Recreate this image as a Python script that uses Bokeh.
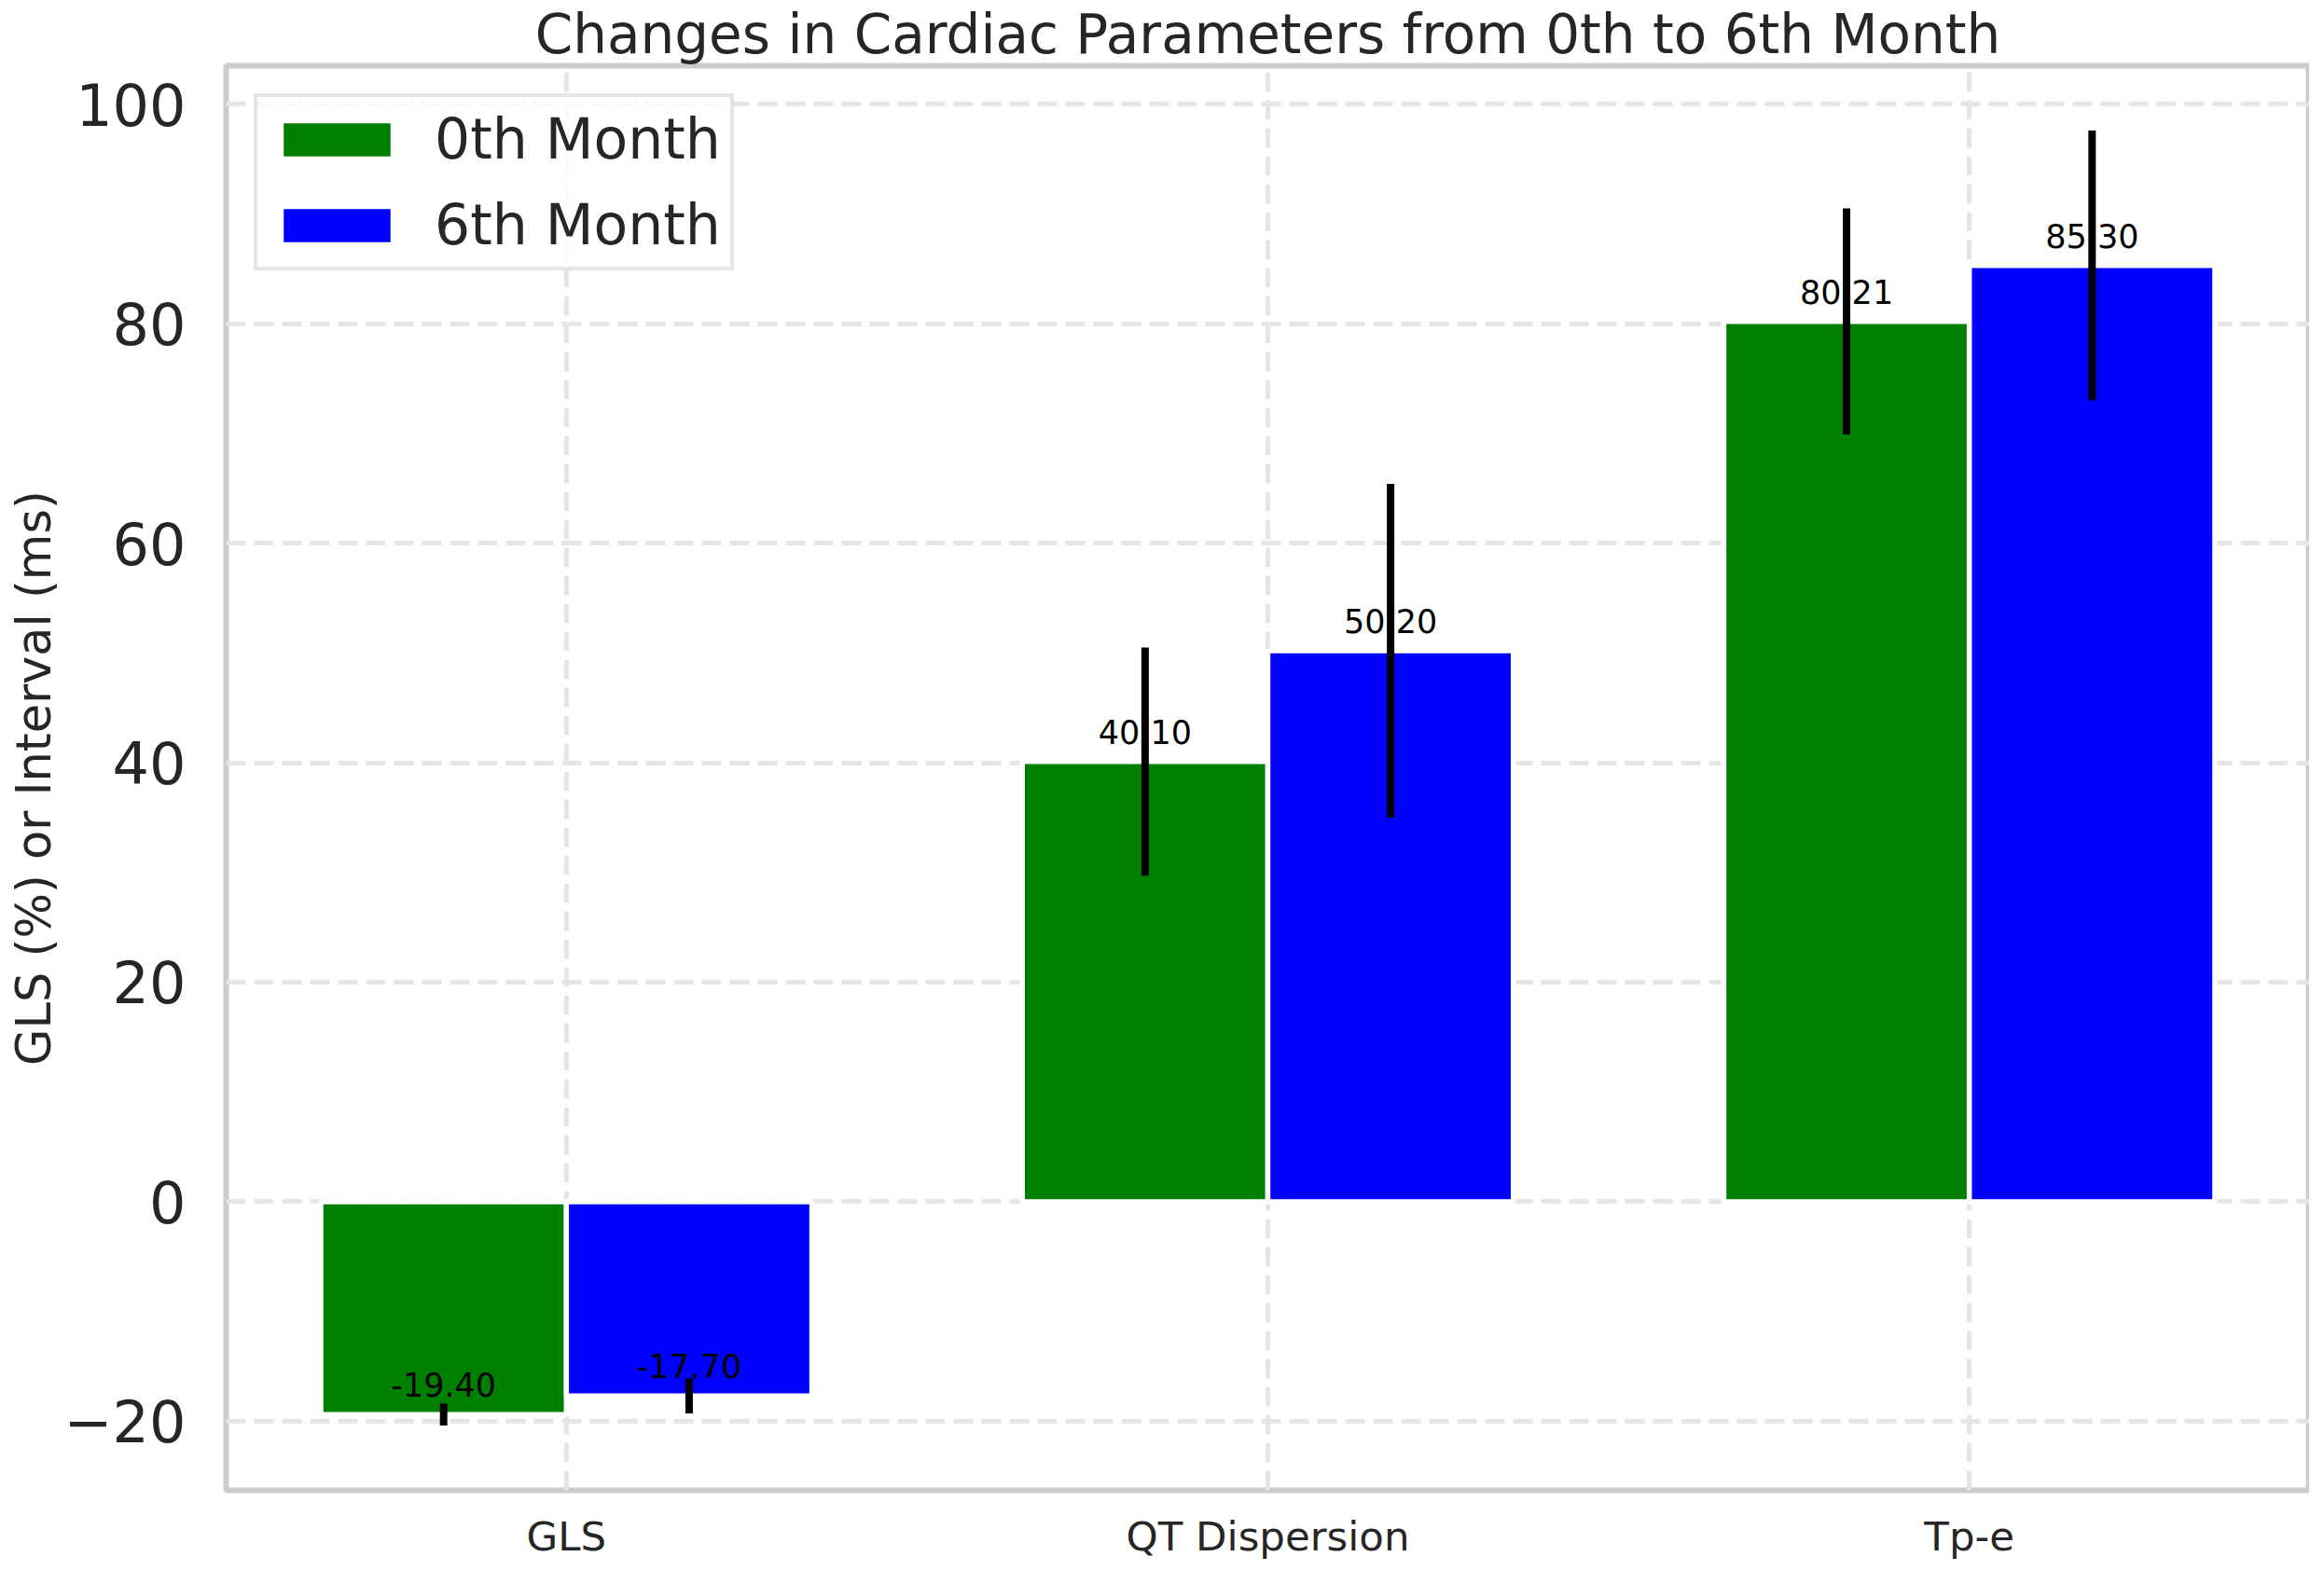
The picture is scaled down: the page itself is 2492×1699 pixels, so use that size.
from bokeh.plotting import figure
from bokeh.models import Range1d, FixedTicker, ColumnDataSource, Legend, LegendItem
from bokeh.transform import dodge
from bokeh.embed import file_html
from bokeh.resources import INLINE
from bokeh.core.properties import value

categories = ["GLS", "QT Dispersion", "Tp-e"]
series = ["0th Month", "6th Month"]
month0 = [-19.40, 40.10, 80.21]
month6 = [-17.70, 50.20, 85.30]
err0 = [1.0, 10.4, 10.3]
err6 = [1.6, 15.2, 12.3]
colors = ["#008000", "#0000ff"]
yticks = [-20, 0, 20, 40, 60, 80, 100]
title_text = "Changes in Cardiac Parameters from 0th to 6th Month"

FONT = "DejaVu Sans"
TXT = "#262626"
W, H = 2476, 1683

p = figure(width=W, height=H, output_backend="svg", toolbar_location=None,
           x_range=Range1d(-0.485, 2.485), y_range=Range1d(-26.3, 103.5),
           min_border_left=242, min_border_right=0, min_border_top=62,
           min_border_bottom=85)
p.background_fill_color = "white"
p.border_fill_color = "white"

p.title.text = title_text
p.title.align = "center"
p.title.text_font = FONT
p.title.text_font_size = "58px"
p.title.text_font_style = "normal"
p.title.text_color = TXT
p.title.standoff = 0

xs = list(range(len(categories)))
renderers = []
for vals, errs, col, off in [(month0, err0, colors[0], -0.175), (month6, err6, colors[1], 0.175)]:
    src = ColumnDataSource(dict(
        x=xs, top=vals,
        lo=[v - e for v, e in zip(vals, errs)],
        hi=[v + e for v, e in zip(vals, errs)],
        ly=[v + 2.7 for v in vals],
        txt=["%.2f" % v for v in vals],
    ))
    r = p.vbar(x=dodge("x", off, range=p.x_range), top="top", bottom=0, width=0.35,
               source=src, fill_color=col, line_color="white", line_width=5.5)
    renderers.append(r)
    p.text(x=dodge("x", off, range=p.x_range), y="ly", text="txt", source=src,
           text_font=value(FONT), text_font_size="35px", text_color="black",
           text_align="center", text_baseline="alphabetic")
    p.segment(x0=dodge("x", off, range=p.x_range), y0="lo",
              x1=dodge("x", off, range=p.x_range), y1="hi", source=src,
              line_color="black", line_width=8)

legend = Legend(items=[LegendItem(label=s, renderers=[r]) for s, r in zip(series, renderers)],
                location="top_left", margin=30, padding=10, spacing=22,
                glyph_width=150, glyph_height=51, label_standoff=30,
                label_text_font=FONT, label_text_font_size="60px",
                label_text_color=TXT, border_line_color="#cccccc",
                border_line_width=4, background_fill_color="white",
                background_fill_alpha=0.8)
p.add_layout(legend)

p.xaxis.ticker = FixedTicker(ticks=xs)
p.xaxis.major_label_overrides = {i: c for i, c in zip(xs, categories)}
p.xaxis.axis_label = None
p.xaxis.axis_label_standoff = 0
p.yaxis.ticker = FixedTicker(ticks=yticks)
p.yaxis.major_label_overrides = {t: ("\u2212%d" % -t if t < 0 else "%d" % t) for t in yticks}

for ax in (p.xaxis[0], p.yaxis[0]):
    ax.axis_line_color = None
    ax.major_tick_line_color = None
    ax.minor_tick_line_color = None
    ax.major_tick_out = 0
    ax.major_tick_in = 0
    ax.minor_tick_out = 0
    ax.minor_tick_in = 0
    ax.major_label_text_font = FONT
    ax.major_label_text_color = TXT

p.xaxis.major_label_text_font_size = "43.5px"
p.xaxis.major_label_standoff = 24
p.yaxis.major_label_text_font_size = "62px"
p.yaxis.major_label_standoff = 43
p.yaxis.axis_label = "GLS (%) or Interval (ms)"
p.yaxis.axis_label_text_font = FONT
p.yaxis.axis_label_text_font_size = "51px"
p.yaxis.axis_label_text_font_style = "normal"
p.yaxis.axis_label_text_color = TXT
p.yaxis.axis_label_standoff = 0

for g in (p.xgrid[0], p.ygrid[0]):
    g.grid_line_color = "#e5e5e5"
    g.grid_line_width = 5
    g.grid_line_dash = "21 9"

p.outline_line_color = "#cccccc"
p.outline_line_width = 6

open("out.html", "w").write(file_html(p, INLINE))
